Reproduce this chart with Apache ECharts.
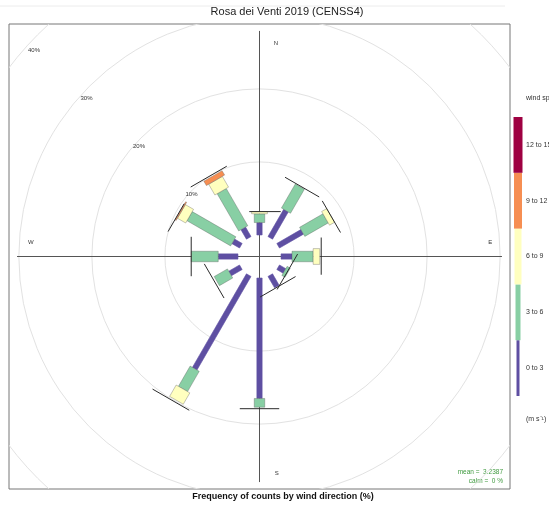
<!DOCTYPE html>
<html>
<head>
<meta charset="utf-8">
<script src="https://cdn.jsdelivr.net/npm/echarts@6/dist/echarts.min.js"></script>
<style>
  html, body { margin: 0; padding: 0; background: #fff; }
  #chart { width: 549px; height: 506px; }
</style>
</head>
<body>
<div id="chart"></div>
<script>
// wind direction of each paddle, degrees clockwise from north
const DIRECTIONS = [0, 30, 60, 90, 120, 150, 180, 210, 240, 270, 300, 330];
const SPEED_BINS = ["0 to 3", "3 to 6", "6 to 9", "9 to 12", "12 to 15"];
const BIN_COLORS = ["#5E4FA2", "#88CFA4", "#FFFFBF", "#F68E52", "#9E0142"];

// frequency (%) per direction, one array per speed bin
const FREQ_0_3 = [1.7, 4.3, 3.8, 1.5, 1.0, 1.8, 16.5, 14.8, 1.7, 2.7, 1.2, 1.5];
const FREQ_3_6 = [1.2, 3.8, 3.7, 2.9, 0.5, 0, 1.2, 3.2, 2.1, 3.7, 6.9, 5.9];
const FREQ_6_9 = [0.3, 0, 0.8, 0.9, 0, 0, 0, 1.8, 0, 0, 1.3, 1.7];
const FREQ_9_12 = [0, 0, 0, 0, 0, 0, 0, 0, 0, 0, 0.15, 0.7];
const FREQ_12_15 = [0, 0, 0, 0, 0, 0, 0, 0, 0, 0, 0, 0];

// end whiskers: radius (%) and lateral extent (left / right of the paddle)
const TIP_PCT = [3.2, 8.2, 8.3, 5.5, 1.4, 1.9, 17.9, 20.1, 4.1, 6.4, 9.6, 10.0];
const TIP_LEFT = [-1.4, -2.4, -2.3, -2.6, -2.9, -2.9, -2.7, -2.2, -2.5, -2.7, -3.3, -3.4];
const TIP_RIGHT = [2.9, 3.0, 2.7, 2.5, 2.7, 2.7, 2.7, 3.6, 2.9, 2.7, 1.1, 2.3];

const RING_PCT = [10, 20, 30, 40];
const RING_LABELS = ["10%", "20%", "30%", "40%"];
const COMPASS = ["N", "E", "S", "W"];
const MEAN_TEXT = "mean =  3.2387";
const CALM_TEXT = "calm =  0 %";

const FONT = '"Liberation Sans", Arial, sans-serif';
const OFFSET = 2.95;   // hollow centre, in % units
const PADDLE = 0.72;   // paddle width step, in % units

const FREQS = [FREQ_0_3, FREQ_3_6, FREQ_6_9, FREQ_9_12, FREQ_12_15];

function polar(dirDeg, radius, lateral) {
  const t = (dirDeg * Math.PI) / 180;
  return [
    radius * Math.sin(t) + lateral * Math.cos(t),
    radius * Math.cos(t) - lateral * Math.sin(t)
  ];
}

const barData = [];
DIRECTIONS.forEach((dir, i) => {
  let start = 0;
  FREQS.forEach((arr, b) => {
    const v = arr[i];
    if (v > 0) {
      barData.push([dir, start, start + v, b]);
    }
    start += v;
  });
});

const tipData = DIRECTIONS.map((dir, i) => [dir, TIP_PCT[i], TIP_LEFT[i], TIP_RIGHT[i]]);

const compassPos = [[2.26, 29.25], [31.6, 2.0], [2.35, -29.7], [-31.3, 2.0]];
const ringLabelData = RING_PCT.map(v => polar(312.5, (v + OFFSET) * 0.975, 0));

const chart = echarts.init(document.getElementById("chart"));

const option = {
  animation: false,
  backgroundColor: "#ffffff",
  grid: {
    left: 9,
    top: 24,
    width: 501,
    height: 465,
    show: true,
    borderColor: "#777777",
    borderWidth: 1,
    backgroundColor: "#ffffff"
  },
  xAxis: { type: "value", min: -34.3, max: 34.3, show: false },
  yAxis: { type: "value", min: -31.85, max: 31.85, show: false },
  series: [
    {
      type: "custom",
      clip: true,
      silent: true,
      z: 1,
      data: RING_PCT.map(v => [v, 0]),
      renderItem(params, api) {
        const c = api.coord([0, 0]);
        const r = api.size([OFFSET + api.value(0), 0])[0];
        return {
          type: "circle",
          shape: { cx: c[0], cy: c[1], r },
          style: { fill: "none", stroke: "#e2e2e2", lineWidth: 1 }
        };
      }
    },
    {
      type: "custom",
      silent: true,
      z: 2,
      data: [[0, 30.9], [33.2, 0]],
      renderItem(params, api) {
        const ex = api.value(0);
        const ey = api.value(1);
        const p1 = api.coord([-ex, -ey]);
        const p2 = api.coord([ex, ey]);
        return {
          type: "line",
          shape: { x1: p1[0], y1: p1[1], x2: p2[0], y2: p2[1] },
          style: { stroke: "#555555", lineWidth: 1 }
        };
      }
    },
    {
      type: "custom",
      silent: true,
      z: 3,
      dimensions: ["dir", "start", "end", "bin"],
      encode: { x: 1, y: 2 },
      data: barData,
      renderItem(params, api) {
        const dir = api.value(0);
        const r1 = OFFSET + api.value(1);
        const r2 = OFFSET + api.value(2);
        const bin = api.value(3);
        const hw = (PADDLE * (bin + 1)) / 2;
        const pts = [
          polar(dir, r1, -hw),
          polar(dir, r1, hw),
          polar(dir, r2, hw),
          polar(dir, r2, -hw)
        ].map(p => api.coord(p));
        return {
          type: "polygon",
          shape: { points: pts },
          style: {
            fill: BIN_COLORS[bin],
            stroke: bin === 0 ? BIN_COLORS[0] : "rgba(90,90,90,0.6)",
            lineWidth: 0.6
          }
        };
      }
    },
    {
      type: "custom",
      silent: true,
      z: 4,
      dimensions: ["dir", "r", "left", "right"],
      encode: { x: 2, y: 3 },
      data: tipData,
      renderItem(params, api) {
        const dir = api.value(0);
        const r = OFFSET + api.value(1);
        const a = api.coord(polar(dir, r, api.value(2)));
        const b = api.coord(polar(dir, r, api.value(3)));
        return {
          type: "line",
          shape: { x1: a[0], y1: a[1], x2: b[0], y2: b[1] },
          style: { stroke: "#2a2a2a", lineWidth: 1 }
        };
      }
    },
    {
      type: "custom",
      silent: true,
      z: 5,
      data: ringLabelData,
      renderItem(params, api) {
        const p = api.coord([api.value(0), api.value(1)]);
        return {
          type: "text",
          x: p[0],
          y: p[1],
          style: {
            text: RING_LABELS[params.dataIndex],
            font: "6px " + FONT,
            fill: "#333333",
            align: "center",
            textAlign: "center",
            verticalAlign: "middle",
            textVerticalAlign: "middle"
          }
        };
      }
    },
    {
      type: "custom",
      silent: true,
      z: 5,
      data: compassPos,
      renderItem(params, api) {
        const p = api.coord([api.value(0), api.value(1)]);
        return {
          type: "text",
          x: p[0],
          y: p[1],
          style: {
            text: COMPASS[params.dataIndex],
            font: "6px " + FONT,
            fill: "#333333",
            align: "center",
            textAlign: "center",
            verticalAlign: "middle",
            textVerticalAlign: "middle"
          }
        };
      }
    }
  ],
  graphic: []
};

// titles and legend
const graphic = [
  {
    type: "line",
    silent: true,
    shape: { x1: 0, y1: 6, x2: 505, y2: 6 },
    style: { stroke: "#ececec", lineWidth: 1 }
  },
  {
    type: "text",
    silent: true,
    x: 287,
    y: 12,
    style: {
      text: "Rosa dei Venti 2019 (CENSS4)",
      font: "11px " + FONT,
      fill: "#222222",
      align: "center",
      textAlign: "center",
      verticalAlign: "middle",
      textVerticalAlign: "middle"
    }
  },
  {
    type: "text",
    silent: true,
    x: 283,
    y: 497,
    style: {
      text: "Frequency of counts by wind direction (%)",
      font: "bold 9px " + FONT,
      fill: "#111111",
      align: "center",
      textAlign: "center",
      verticalAlign: "middle",
      textVerticalAlign: "middle"
    }
  },
  {
    type: "text",
    silent: true,
    x: 503,
    y: 472,
    style: {
      text: MEAN_TEXT,
      font: "6.5px " + FONT,
      fill: "#3f9a3f",
      align: "right",
      textAlign: "right",
      verticalAlign: "middle",
      textVerticalAlign: "middle"
    }
  },
  {
    type: "text",
    silent: true,
    x: 503,
    y: 481,
    style: {
      text: CALM_TEXT,
      font: "6.5px " + FONT,
      fill: "#3f9a3f",
      align: "right",
      textAlign: "right",
      verticalAlign: "middle",
      textVerticalAlign: "middle"
    }
  }
];

const legendTop = 117;
const legendStep = 55.8;
const legendWidths = [3, 5, 7, 8, 9];
SPEED_BINS.forEach((label, b) => {
  const slot = SPEED_BINS.length - 1 - b;
  const y = legendTop + slot * legendStep;
  graphic.push({
    type: "rect",
    silent: true,
    shape: { x: 518 - legendWidths[b] / 2, y, width: legendWidths[b], height: legendStep },
    style: { fill: BIN_COLORS[b] }
  });
  graphic.push({
    type: "text",
    silent: true,
    x: 526,
    y: y + legendStep / 2,
    style: {
      text: label,
      font: "7px " + FONT,
      fill: "#333333",
      align: "left",
      textAlign: "left",
      verticalAlign: "middle",
      textVerticalAlign: "middle"
    }
  });
});
graphic.push({
  type: "text",
  silent: true,
  x: 526,
  y: 98,
  style: {
    text: "wind spd.",
    font: "7px " + FONT,
    fill: "#333333",
    align: "left",
    textAlign: "left",
    verticalAlign: "middle",
    textVerticalAlign: "middle"
  }
});
graphic.push({
  type: "text",
  silent: true,
  x: 526,
  y: 419,
  style: {
    text: "(m s\u207B\u00B9)",
    font: "7px " + FONT,
    fill: "#333333",
    align: "left",
    textAlign: "left",
    verticalAlign: "middle",
    textVerticalAlign: "middle"
  }
});

option.graphic = graphic;
chart.setOption(option);
</script>
</body>
</html>
